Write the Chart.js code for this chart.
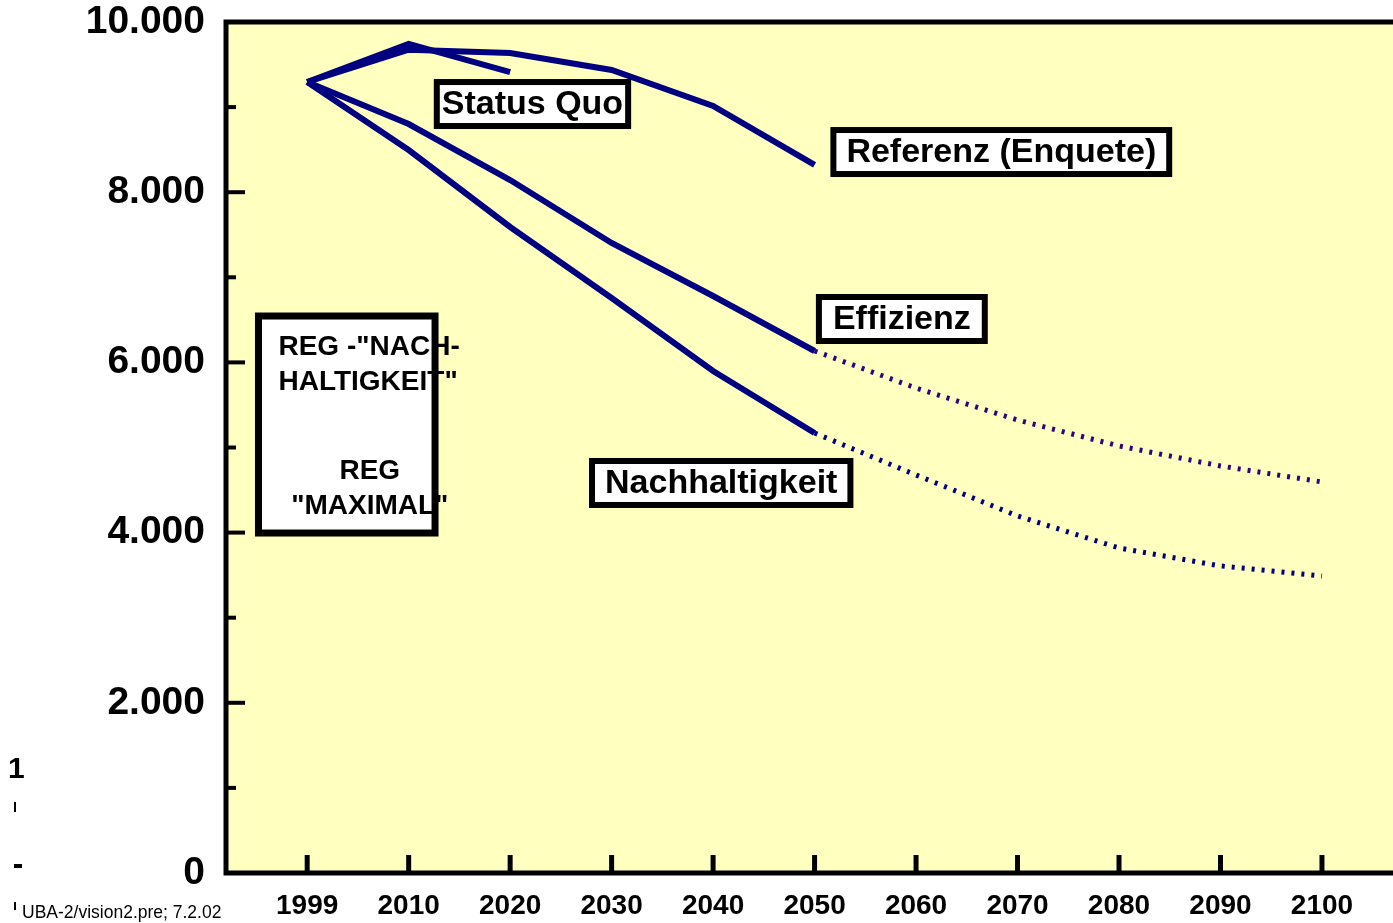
<!DOCTYPE html>
<html>
<head>
<meta charset="utf-8">
<script src="https://cdn.jsdelivr.net/npm/chart.js@4.4.1/dist/chart.umd.min.js"></script>
<style>
  body { margin: 0; background: #fff; }
  #wrap { width: 1393px; height: 923px; position: relative; }
</style>
</head>
<body>
<div id="wrap"><canvas id="chart" width="1393" height="923"></canvas></div>
<script>
const years = ['1999','2010','2020','2030','2040','2050','2060','2070','2080','2090','2100'];
const statusQuo = [9295, 9742, 9412];
const referenz = [9295, 9675, 9636, 9436, 9013, 8320];
const effizienz = [9295, 8801, 8143, 7403, 6780, 6134];
const effizienzTrend = [null, null, null, null, null, 6134, 5699, 5323, 5018, 4783, 4595];
const nachhaltigkeit = [9295, 8496, 7591, 6757, 5899, 5170];
const nachhaltigkeitTrend = [null, null, null, null, null, 5170, 4677, 4195, 3819, 3608, 3490];
const yMax = 10000;
const yStep = 2000;

const FONT = '"Liberation Sans", Arial, sans-serif';
const NAVY = '#000080';

// Beschriftungskaesten (Position in Achsenwerten)
const labelBoxes = [
  { text: 'Status Quo', x: 2.22, y: 9036, pad: 5 },
  { text: 'Referenz (Enquete)', x: 6.84, y: 8472, pad: 13 },
  { text: 'Effizienz', x: 5.86, y: 6510, pad: 14 },
  { text: 'Nachhaltigkeit', x: 4.08, y: 4583, pad: 13 }
];
const regBox = { x0: -0.48, x1: 1.26, y0: 6545, y1: 3995 };

function pts(arr) {
  return arr.map((v, i) => ({ x: i, y: v })).filter(p => p.y !== null);
}
function fmt(v) {
  return String(v).replace(/\B(?=(\d{3})+(?!\d))/g, '.');
}

const framePlugin = {
  id: 'frame',
  beforeDraw(chart) {
    const { ctx, chartArea: a } = chart;
    ctx.save();
    ctx.fillStyle = '#ffffc0';
    ctx.fillRect(a.left, a.top, a.right - a.left, a.bottom - a.top);
    ctx.restore();
  },
  afterDatasetsDraw(chart) {
    const { ctx, chartArea: a, scales: { x, y } } = chart;
    ctx.save();
    ctx.strokeStyle = '#000';
    ctx.lineCap = 'butt';

    // Achsen + oberer Rand
    ctx.lineWidth = 5;
    ctx.beginPath();
    ctx.moveTo(a.left, a.bottom + 2.5);
    ctx.lineTo(a.left, a.top);
    ctx.moveTo(a.left - 2.5, a.top);
    ctx.lineTo(a.right, a.top);
    ctx.moveTo(a.left - 2.5, a.bottom);
    ctx.lineTo(a.right, a.bottom);
    ctx.stroke();

    // y-Striche nach innen
    ctx.lineWidth = 4;
    for (let v = 0; v <= yMax; v += yStep / 2) {
      const py = y.getPixelForValue(v);
      const len = v % yStep === 0 ? 19 : 10;
      ctx.beginPath();
      ctx.moveTo(a.left, py);
      ctx.lineTo(a.left + len, py);
      ctx.stroke();
    }
    // x-Striche nach innen
    ctx.lineWidth = 5;
    years.forEach((_, i) => {
      const px = x.getPixelForValue(i);
      ctx.beginPath();
      ctx.moveTo(px, a.bottom);
      ctx.lineTo(px, a.bottom - 18);
      ctx.stroke();
    });

    // Kaesten
    ctx.font = 'bold 34px ' + FONT;
    ctx.textAlign = 'center';
    ctx.textBaseline = 'middle';
    labelBoxes.forEach(b => {
      const cx = x.getPixelForValue(b.x);
      const cy = y.getPixelForValue(b.y);
      const w = ctx.measureText(b.text).width + 2 * b.pad;
      const h = 44;
      ctx.fillStyle = '#fff';
      ctx.fillRect(cx - w / 2, cy - h / 2, w, h);
      ctx.lineWidth = 6;
      ctx.strokeRect(cx - w / 2, cy - h / 2, w, h);
      ctx.fillStyle = '#000';
      ctx.fillText(b.text, cx, cy + 1);
    });

    // REG-Kasten
    const rx0 = x.getPixelForValue(regBox.x0), rx1 = x.getPixelForValue(regBox.x1);
    const ry0 = y.getPixelForValue(regBox.y0), ry1 = y.getPixelForValue(regBox.y1);
    ctx.fillStyle = '#fff';
    ctx.fillRect(rx0, ry0, rx1 - rx0, ry1 - ry0);
    ctx.fillStyle = '#000';
    ctx.font = 'bold 28px ' + FONT;
    ctx.textAlign = 'left';
    ctx.fillText('REG -"NACH-', rx0 + 20, ry0 + 31);
    ctx.fillText('HALTIGKEIT"', rx0 + 20, ry0 + 66);
    ctx.textAlign = 'center';
    const rc = (rx0 + rx1) / 2 + 23;
    ctx.fillText('REG', rc, ry0 + 155);
    ctx.fillText('"MAXIMAL"', rc, ry0 + 190);
    ctx.lineWidth = 7;
    ctx.strokeRect(rx0, ry0, rx1 - rx0, ry1 - ry0);

    // Reste am linken Rand + Quelle
    ctx.textAlign = 'left';
    ctx.font = 'bold 30px ' + FONT;
    ctx.fillText('1', 8, 770);
    ctx.fillRect(14, 864, 8, 4);
    ctx.fillRect(14, 802, 2, 10);
    ctx.fillRect(14, 902, 2, 8);
    ctx.font = '17.5px ' + FONT;
    ctx.fillText('UBA-2/vision2.pre; 7.2.02', 22, 913);
    ctx.restore();
  }
};

const solid = { borderColor: NAVY, borderWidth: 6, pointRadius: 0, tension: 0, fill: false };
const dotted = { borderWidth: 5, borderDash: [3, 7], pointRadius: 0, tension: 0, fill: false };

new Chart(document.getElementById('chart'), {
  type: 'line',
  data: {
    datasets: [
      { label: 'Status Quo', data: pts(statusQuo), ...solid },
      { label: 'Referenz (Enquete)', data: pts(referenz), ...solid },
      { label: 'Effizienz', data: pts(effizienz), ...solid },
      { label: 'Effizienz Trend', data: pts(effizienzTrend), borderColor: '#33007f', ...dotted },
      { label: 'Nachhaltigkeit', data: pts(nachhaltigkeit), ...solid },
      { label: 'Nachhaltigkeit Trend', data: pts(nachhaltigkeitTrend), borderColor: NAVY, ...dotted }
    ]
  },
  options: {
    responsive: false,
    animation: false,
    layout: { padding: { top: 22, right: 0, left: 0, bottom: 0 } },
    plugins: { legend: { display: false }, tooltip: { enabled: false } },
    scales: {
      x: {
        type: 'linear',
        min: -0.8,
        max: 10.7,
        afterBuildTicks(s) { s.ticks = years.map((_, i) => ({ value: i })); },
        afterFit(s) { s.height = 50; s.paddingLeft = 0; s.paddingRight = 0; },
        grid: { display: false, drawTicks: false },
        border: { display: false },
        ticks: {
          padding: 16,
          color: '#000',
          font: { family: FONT, size: 28, weight: 'bold' },
          maxRotation: 0,
          autoSkip: false,
          callback: (v) => years[v] ?? ''
        }
      },
      y: {
        min: 0,
        max: yMax,
        afterFit(s) { s.width = 226; s.paddingTop = 0; s.paddingBottom = 0; },
        grid: { display: false, drawTicks: false },
        border: { display: false },
        ticks: {
          stepSize: yStep,
          padding: 21,
          color: '#000',
          font: { family: FONT, size: 39, weight: 'bold' },
          callback: (v) => fmt(v)
        }
      }
    }
  },
  plugins: [framePlugin]
});
</script>
</body>
</html>
